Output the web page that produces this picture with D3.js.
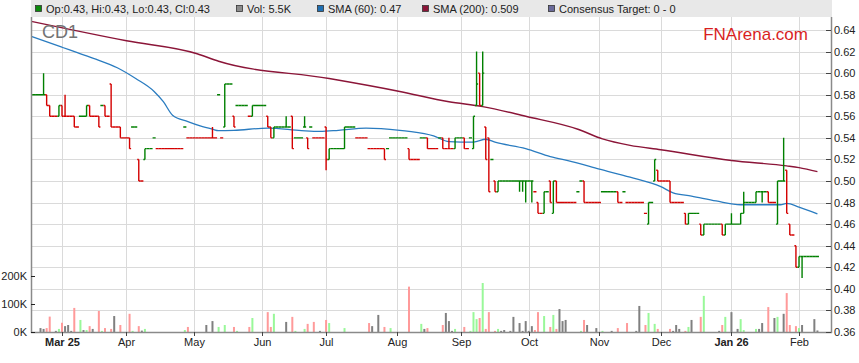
<!DOCTYPE html>
<html>
<head>
<meta charset="utf-8">
<script src="https://cdn.jsdelivr.net/npm/d3@7"></script>
<style>
body { margin: 0; background: #fff; }
svg { display: block; }
text { font-family: "Liberation Sans", Arial, sans-serif; }
</style>
</head>
<body>
<div id="chart"></div>
<script>
// premier jour ouvré affiché (lundi)
var startDay = "2025-02-17";

// cours journaliers en cents, un par jour ouvré (5 par groupe = une semaine)
var opens = [
    58,58,58,58,58, 58,57,56,56,56, 57,56,56,56,56, 55,56,56,56,57, 56,56,56,57,57,
    56,59,55,55,55, 54,54,54,55,55, 52,50,52,53,53, 54,53,53,53,53, 53,53,53,53,53,
    55,54,54,54,54, 54,54,54,54,54, 54,58,54,55,59, 59,56,57,57,57, 57,56,56,57,57,
    57,57,56,55,54, 55,55,55,55,55, 56,54,54,54,55, 54,55,54,54,54, 54,55,52,53,53,
    53,53,53,55,55, 55,54,54,54,54, 53,53,53,53,53, 53,53,54,54,54, 54,54,54,53,52,
    52,52,54,54,54, 53,53,53,54,54, 53,53,53,53,54, 54,54,53,54,53, 57,60,57,55,54,
    52,50,49,50,50, 50,50,50,50,50, 50,50,50,50,49, 48,47,47,49,50, 47,50,48,48,48,
    48,48,48,49,50, 50,48,48,48,48, 48,49,49,49,49, 49,49,48,49,48, 48,48,48,48,48,
    47,46,48,50,51, 50,50,50,50,48, 48,48,48,47,46, 47,47,47,46,45, 46,46,46,46,46,
    46,45,46,46,46, 46,46,47,48,48, 48,48,49,49,49, 49,48,48,46,50, 50,51,46,45,44,
    42,43,43,43,43, 43,43
];
var highs = [
    59,58,58,58,60, 58,57,56,56,57, 57,58,56,56,56, 55,56,56,57,57, 56,56,56,57,57,
    56,59,55,55,55, 54,54,54,55,55, 52,50,53,53,53, 54,53,53,53,53, 53,53,53,53,53,
    55,54,54,54,54, 54,54,54,54,55, 54,58,54,59,59, 59,56,57,57,57, 57,56,57,57,57,
    57,57,56,55,55, 55,55,55,56,55, 56,54,54,54,56, 54,55,54,54,54, 54,55,53,53,53,
    53,53,55,55,55, 55,54,54,54,54, 53,53,53,53,53, 53,53,54,54,54, 54,54,54,53,52,
    52,52,54,54,54, 53,53,53,54,54, 53,54,53,54,54, 54,54,53,54,56, 62,60,62,55,54,
    52,50,50,50,50, 50,50,50,50,50, 50,50,50,50,49, 48,47,49,49,50, 50,50,48,48,48,
    48,48,48,49,50, 50,48,48,48,48, 48,49,49,49,49, 49,49,48,49,48, 48,48,48,48,48,
    47,48,48,52,51, 50,50,50,50,48, 48,48,48,47,47, 47,47,47,46,46, 46,46,46,46,46,
    46,46,46,47,46, 46,47,49,48,48, 48,49,49,49,49, 49,48,48,50,50, 54,51,46,45,44,
    43,43,43,43,43, 43,43
];
var lows = [
    58,58,58,58,58, 57,56,56,56,56, 56,56,56,56,55, 55,56,56,56,56, 56,56,55,57,56,
    56,55,55,55,54, 54,54,53,55,55, 50,50,52,53,53, 54,53,53,53,53, 53,53,53,53,53,
    55,54,54,54,54, 54,54,54,54,54, 54,58,54,55,59, 59,55,57,57,57, 57,56,56,57,57,
    57,57,55,54,54, 55,55,55,55,55, 53,54,54,54,55, 53,55,54,54,54, 54,51,52,53,53,
    53,53,53,55,55, 55,54,54,54,54, 53,53,53,53,53, 52,53,54,54,54, 54,54,54,52,52,
    52,52,54,54,53, 53,53,53,54,53, 53,53,53,53,54, 54,53,53,54,53, 57,57,57,52,49,
    52,49,49,50,50, 50,50,50,50,49, 49,48,50,48,49, 47,47,47,49,48, 47,48,48,48,48,
    48,48,48,49,50, 48,48,48,48,48, 48,49,49,49,49, 49,48,48,49,48, 48,48,48,48,48,
    47,46,48,50,50, 50,50,50,48,48, 48,48,48,46,46, 47,47,47,45,45, 46,46,46,46,46,
    45,45,46,46,46, 46,46,47,48,48, 48,48,49,48,49, 48,48,48,46,50, 50,47,45,45,42,
    42,41,43,43,43, 43,43
];
var closes = [
    58,58,58,58,58, 57,56,56,56,57, 56,56,56,56,55, 55,56,56,57,56, 56,56,55,57,56,
    56,55,55,55,54, 54,54,53,55,55, 50,50,53,53,53, 54,53,53,53,53, 53,53,53,53,53,
    55,54,54,54,54, 54,54,54,54,54, 54,58,54,59,59, 59,55,57,57,57, 57,56,57,57,57,
    57,57,55,54,55, 55,55,55,55,55, 53,54,54,54,55, 53,55,54,54,54, 54,52,53,53,53,
    53,53,55,55,55, 55,54,54,54,54, 53,53,53,53,53, 52,53,54,54,54, 54,54,54,52,52,
    52,52,54,54,53, 53,53,53,54,53, 53,53,53,54,54, 54,53,53,54,56, 59,57,60,52,49,
    52,49,50,50,50, 50,50,50,50,50, 50,50,50,50,49, 47,47,49,49,48, 50,48,48,48,48,
    48,48,48,49,50, 48,48,48,48,48, 48,49,49,49,49, 49,48,48,49,48, 48,48,48,48,48,
    47,48,48,52,50, 50,50,50,48,48, 48,48,48,46,47, 47,47,47,45,46, 46,46,46,46,46,
    45,46,46,46,46, 46,47,48,48,48, 48,49,49,49,49, 48,48,48,50,50, 50,47,45,45,42,
    43,43,43,43,43, 43,43
];
// volumes en milliers
var volumes = [
    0,0,0,14,11, 14,55,0,4,11, 33,21,25,4,86, 0,43,7,7,21, 11,0,75,4,14,
    0,11,57,0,25, 0,0,65,4,0, 21,5,11,0,0, 0,0,0,0,0, 0,0,0,0,0,
    7,18,0,0,0, 0,0,25,0,39, 0,18,0,25,0, 0,18,4,0,0, 0,18,50,0,0,
    0,0,71,18,65, 0,0,0,36,0, 54,4,0,0,11, 29,0,36,0,4, 0,43,32,0,0,
    0,0,14,0,0, 0,0,0,0,0, 32,21,0,61,0, 18,0,14,0,0, 0,0,0,162,0,
    0,0,29,11,14, 0,0,0,0,25, 68,39,4,11,0, 0,18,0,4,71, 46,50,175,11,71,
    0,4,11,4,7, 0,4,54,0,32, 4,39,4,21,7, 71,0,57,0,18, 61,11,82,39,43,
    0,0,0,0,4, 43,25,0,0,14, 0,4,0,0,4, 0,14,0,0,32, 0,0,4,93,0,
    25,68,0,29,11, 0,0,0,11,4, 25,11,0,4,18, 43,0,0,54,129, 0,0,0,0,4,
    25,54,0,71,0, 11,46,7,0,0, 0,11,11,32,0, 89,0,50,54,0, 65,139,25,0,21,
    14,25,0,0,0, 46,5.5
];

// moyennes mobiles
var sma60Dates = ["2025-02-17","2025-03-03","2025-03-10","2025-03-18","2025-03-27","2025-04-04","2025-04-14","2025-04-17",
    "2025-04-22","2025-04-29","2025-05-05","2025-05-09","2025-05-13","2025-05-20","2025-06-04","2025-06-19","2025-06-27",
    "2025-07-07","2025-07-18","2025-08-04","2025-08-07","2025-08-19","2025-08-26","2025-09-05","2025-09-11","2025-09-16",
    "2025-09-30","2025-10-10","2025-10-21","2025-11-03","2025-11-17","2025-12-01","2025-12-05","2025-12-15","2025-12-25",
    "2026-01-06","2026-01-23","2026-01-27","2026-02-02","2026-02-10"];
var sma60Values = [0.634,0.624,0.619,0.613,0.605,0.595,0.583,0.5735,0.561,0.555,0.551,0.548,0.5467,0.547,0.549,0.5467,0.546,
    0.547,0.549,0.547,0.546,0.5418,0.5365,0.536,0.5387,0.536,0.530,0.5226,0.518,0.511,0.5035,0.4947,0.489,0.486,0.4815,
    0.478,0.478,0.4793,0.4757,0.4695];
var sma200Dates = ["2025-02-17","2025-04-01","2025-05-02","2025-05-13","2025-07-02","2025-08-04","2025-08-26","2025-09-10",
    "2025-09-30","2025-10-23","2025-11-04","2025-11-17","2025-12-01","2026-01-01","2026-01-27","2026-02-02","2026-02-10"];
var sma200Values = [0.648,0.630,0.618,0.611,0.595,0.583,0.5735,0.569,0.560,0.548,0.539,0.533,0.529,0.519,0.514,0.5124,0.5087];

// axe des dates
var monthStarts = ["2025-03-03","2025-04-01","2025-05-01","2025-06-02","2025-07-01","2025-08-01","2025-09-01",
    "2025-10-01","2025-11-03","2025-12-01","2026-01-01","2026-02-02"];
var monthLabels = ["Mar 25","Apr","May","Jun","Jul","Aug","Sep","Oct","Nov","Dec","Jan 26","Feb"];
var boldLabels = ["Mar 25","Jan 26"];
var volTicks = [0, 100, 200];

var legendLabels = ["Op:0.43, Hi:0.43, Lo:0.43, Cl:0.43", "Vol: 5.5K", "SMA (60): 0.47", "SMA (200): 0.509", "Consensus Target: 0 - 0"];
var legendColors = ["#0a8a0a", "#8c8c8c", "#1f6fb2", "#8b1538", "#6a6a9a"];
var legendX = [35, 236, 317, 422, 548];

var W = 859, H = 363;
var plotL = 31, plotR = 831, plotT = 17, plotB = 332;
var upCol = "#008000", downCol = "#d40000";
var volUp = "#99f899", volDown = "#ff9a9a", volFlat = "#808080";

var t0 = Date.UTC(2025, 1, 17);
function wdIndex(s) {
    var p = s.split("-");
    var n = Math.round((Date.UTC(+p[0], +p[1] - 1, +p[2]) - t0) / 864e5);
    return Math.floor(n / 7) * 5 + Math.min(n % 7, 5);
}

var x = d3.scaleLinear().domain([-0.095, 260.42]).range([plotL, plotR]);
var y = d3.scaleLinear().domain([0.36, 0.64]).range([plotB, 30]);
var yv = d3.scaleLinear().domain([0, 100]).range([plotB, 304]);

var svg = d3.select("#chart").append("svg")
    .attr("width", W)
    .attr("height", H);

svg.append("defs").append("clipPath").attr("id", "plotclip")
    .append("rect").attr("x", plotL).attr("y", plotT).attr("width", plotR - plotL).attr("height", plotB - plotT);

// grille
var priceTicks = d3.range(0, 15).map(function (k) { return +(0.36 + k * 0.02).toFixed(2); });
svg.append("g").selectAll("line").data(priceTicks).enter().append("line")
    .attr("x1", plotL).attr("x2", plotR)
    .attr("y1", function (d) { return Math.round(y(d)) + 0.5; })
    .attr("y2", function (d) { return Math.round(y(d)) + 0.5; })
    .attr("stroke", "#dadada");
svg.append("g").selectAll("line").data(monthStarts).enter().append("line")
    .attr("x1", function (d) { return Math.round(x(wdIndex(d))) + 0.5; })
    .attr("x2", function (d) { return Math.round(x(wdIndex(d))) + 0.5; })
    .attr("y1", plotT).attr("y2", plotB)
    .attr("stroke", "#dadada");

// données journalières
var days = opens.map(function (o, i) {
    return { i: i, o: o / 100, h: highs[i] / 100, l: lows[i] / 100, c: closes[i] / 100, v: volumes[i] };
});
var lastCol = upCol;
days.forEach(function (d, k) {
    var pc = k > 0 ? days[k - 1].c : d.o;
    var col;
    if (d.c > d.o) col = upCol;
    else if (d.c < d.o) col = downCol;
    else if (d.c > pc) col = upCol;
    else if (d.c < pc) col = downCol;
    else col = lastCol;
    d.color = col;
    lastCol = col;
    d.vcol = d.c > pc ? volUp : (d.c < pc ? volDown : volFlat);
});

// volumes
svg.append("g").selectAll("rect").data(days.filter(function (d) { return d.v > 0; })).enter().append("rect")
    .attr("x", function (d) { return x(d.i) - 1; })
    .attr("width", 2)
    .attr("y", function (d) { return yv(d.v); })
    .attr("height", function (d) { return plotB - yv(d.v); })
    .attr("fill", function (d) { return d.vcol; });

// moyennes mobiles
var line = d3.line()
    .x(function (d) { return x(wdIndex(d[0])); })
    .y(function (d) { return y(d[1]); })
    .curve(d3.curveMonotoneX);
var plot = svg.append("g").attr("clip-path", "url(#plotclip)");
plot.append("path")
    .attr("d", line(d3.zip(sma200Dates, sma200Values)))
    .attr("fill", "none").attr("stroke", "#8b1538").attr("stroke-width", 1.4);
plot.append("path")
    .attr("d", line(d3.zip(sma60Dates, sma60Values)))
    .attr("fill", "none").attr("stroke", "#2a7cc0").attr("stroke-width", 1.3);

// barres OHLC
var hw = 1.55;
plot.append("g").selectAll("path").data(days).enter().append("path")
    .attr("d", function (d) {
        var cx = x(d.i), s = "";
        if (d.h > d.l) s += "M" + cx + "," + y(d.h) + "V" + y(d.l);
        s += "M" + (cx - hw) + "," + y(d.o) + "H" + cx;
        s += "M" + cx + "," + y(d.c) + "H" + (cx + hw);
        return s;
    })
    .attr("fill", "none")
    .attr("stroke", function (d) { return d.color; })
    .attr("stroke-width", 1.4);

// axes
var axisCol = "#8a8a8a";
svg.append("line").attr("x1", plotL + 0.5).attr("x2", plotL + 0.5).attr("y1", plotT).attr("y2", plotB + 1)
    .attr("stroke", axisCol).attr("stroke-width", 1.5);
svg.append("line").attr("x1", plotR + 0.5).attr("x2", plotR + 0.5).attr("y1", plotT).attr("y2", plotB + 1)
    .attr("stroke", axisCol).attr("stroke-width", 1.5);
svg.append("line").attr("x1", plotL).attr("x2", plotR + 1).attr("y1", plotB + 0.5).attr("y2", plotB + 0.5)
    .attr("stroke", axisCol).attr("stroke-width", 1.5);

// axe des prix à droite
var pt = svg.append("g").selectAll("g").data(priceTicks).enter().append("g")
    .attr("transform", function (d) { return "translate(0," + (Math.round(y(d)) + 0.5) + ")"; });
pt.append("line").attr("x1", plotR - 5).attr("x2", plotR).attr("stroke", "#444");
pt.append("text").attr("x", plotR + 3).attr("dy", "0.36em")
    .attr("font-size", 11).attr("fill", "#222")
    .text(function (d) { return d.toFixed(2); });

// axe des volumes à gauche
var vt = svg.append("g").selectAll("g").data(volTicks).enter().append("g")
    .attr("transform", function (d) { return "translate(0," + (Math.round(yv(d)) + 0.5) + ")"; });
vt.append("line").attr("x1", plotL).attr("x2", plotL + 4).attr("stroke", "#222");
vt.append("text").attr("x", plotL - 4).attr("dy", "0.36em").attr("text-anchor", "end")
    .attr("font-size", 11).attr("fill", "#222")
    .text(function (d) { return d + "K"; });

// axe des dates
var mt = svg.append("g").selectAll("g").data(monthStarts).enter().append("g")
    .attr("transform", function (d) { return "translate(" + (Math.round(x(wdIndex(d))) + 0.5) + ",0)"; });
mt.append("line").attr("y1", plotB).attr("y2", plotB + 4).attr("stroke", "#444");
mt.append("text").attr("y", 346).attr("text-anchor", "middle")
    .attr("font-size", 11).attr("fill", "#222")
    .attr("font-weight", function (d, i) { return boldLabels.indexOf(monthLabels[i]) >= 0 ? "bold" : "normal"; })
    .text(function (d, i) { return monthLabels[i]; });

// légende
svg.append("rect").attr("x", plotL).attr("y", 0).attr("width", plotR - plotL + 1).attr("height", plotT)
    .attr("fill", "#e8e8e8");
var lg = svg.append("g").selectAll("g").data(legendLabels).enter().append("g")
    .attr("transform", function (d, i) { return "translate(" + legendX[i] + ",0)"; });
lg.append("rect").attr("x", 0.5).attr("y", 5.5).attr("width", 6).attr("height", 6)
    .attr("fill", function (d, i) { return legendColors[i]; })
    .attr("stroke", "#333").attr("stroke-width", 0.8);
lg.append("text").attr("x", 11).attr("y", 12.5).attr("font-size", 11).attr("fill", "#222")
    .text(function (d) { return d; });

// titres
svg.append("text").attr("x", 42).attr("y", 38).attr("font-size", 18).attr("fill", "#737373").text("CD1");
svg.append("text").attr("x", 808).attr("y", 40).attr("text-anchor", "end")
    .attr("font-size", 17).attr("fill", "#d81f1f").text("FNArena.com");
</script>
</body>
</html>
